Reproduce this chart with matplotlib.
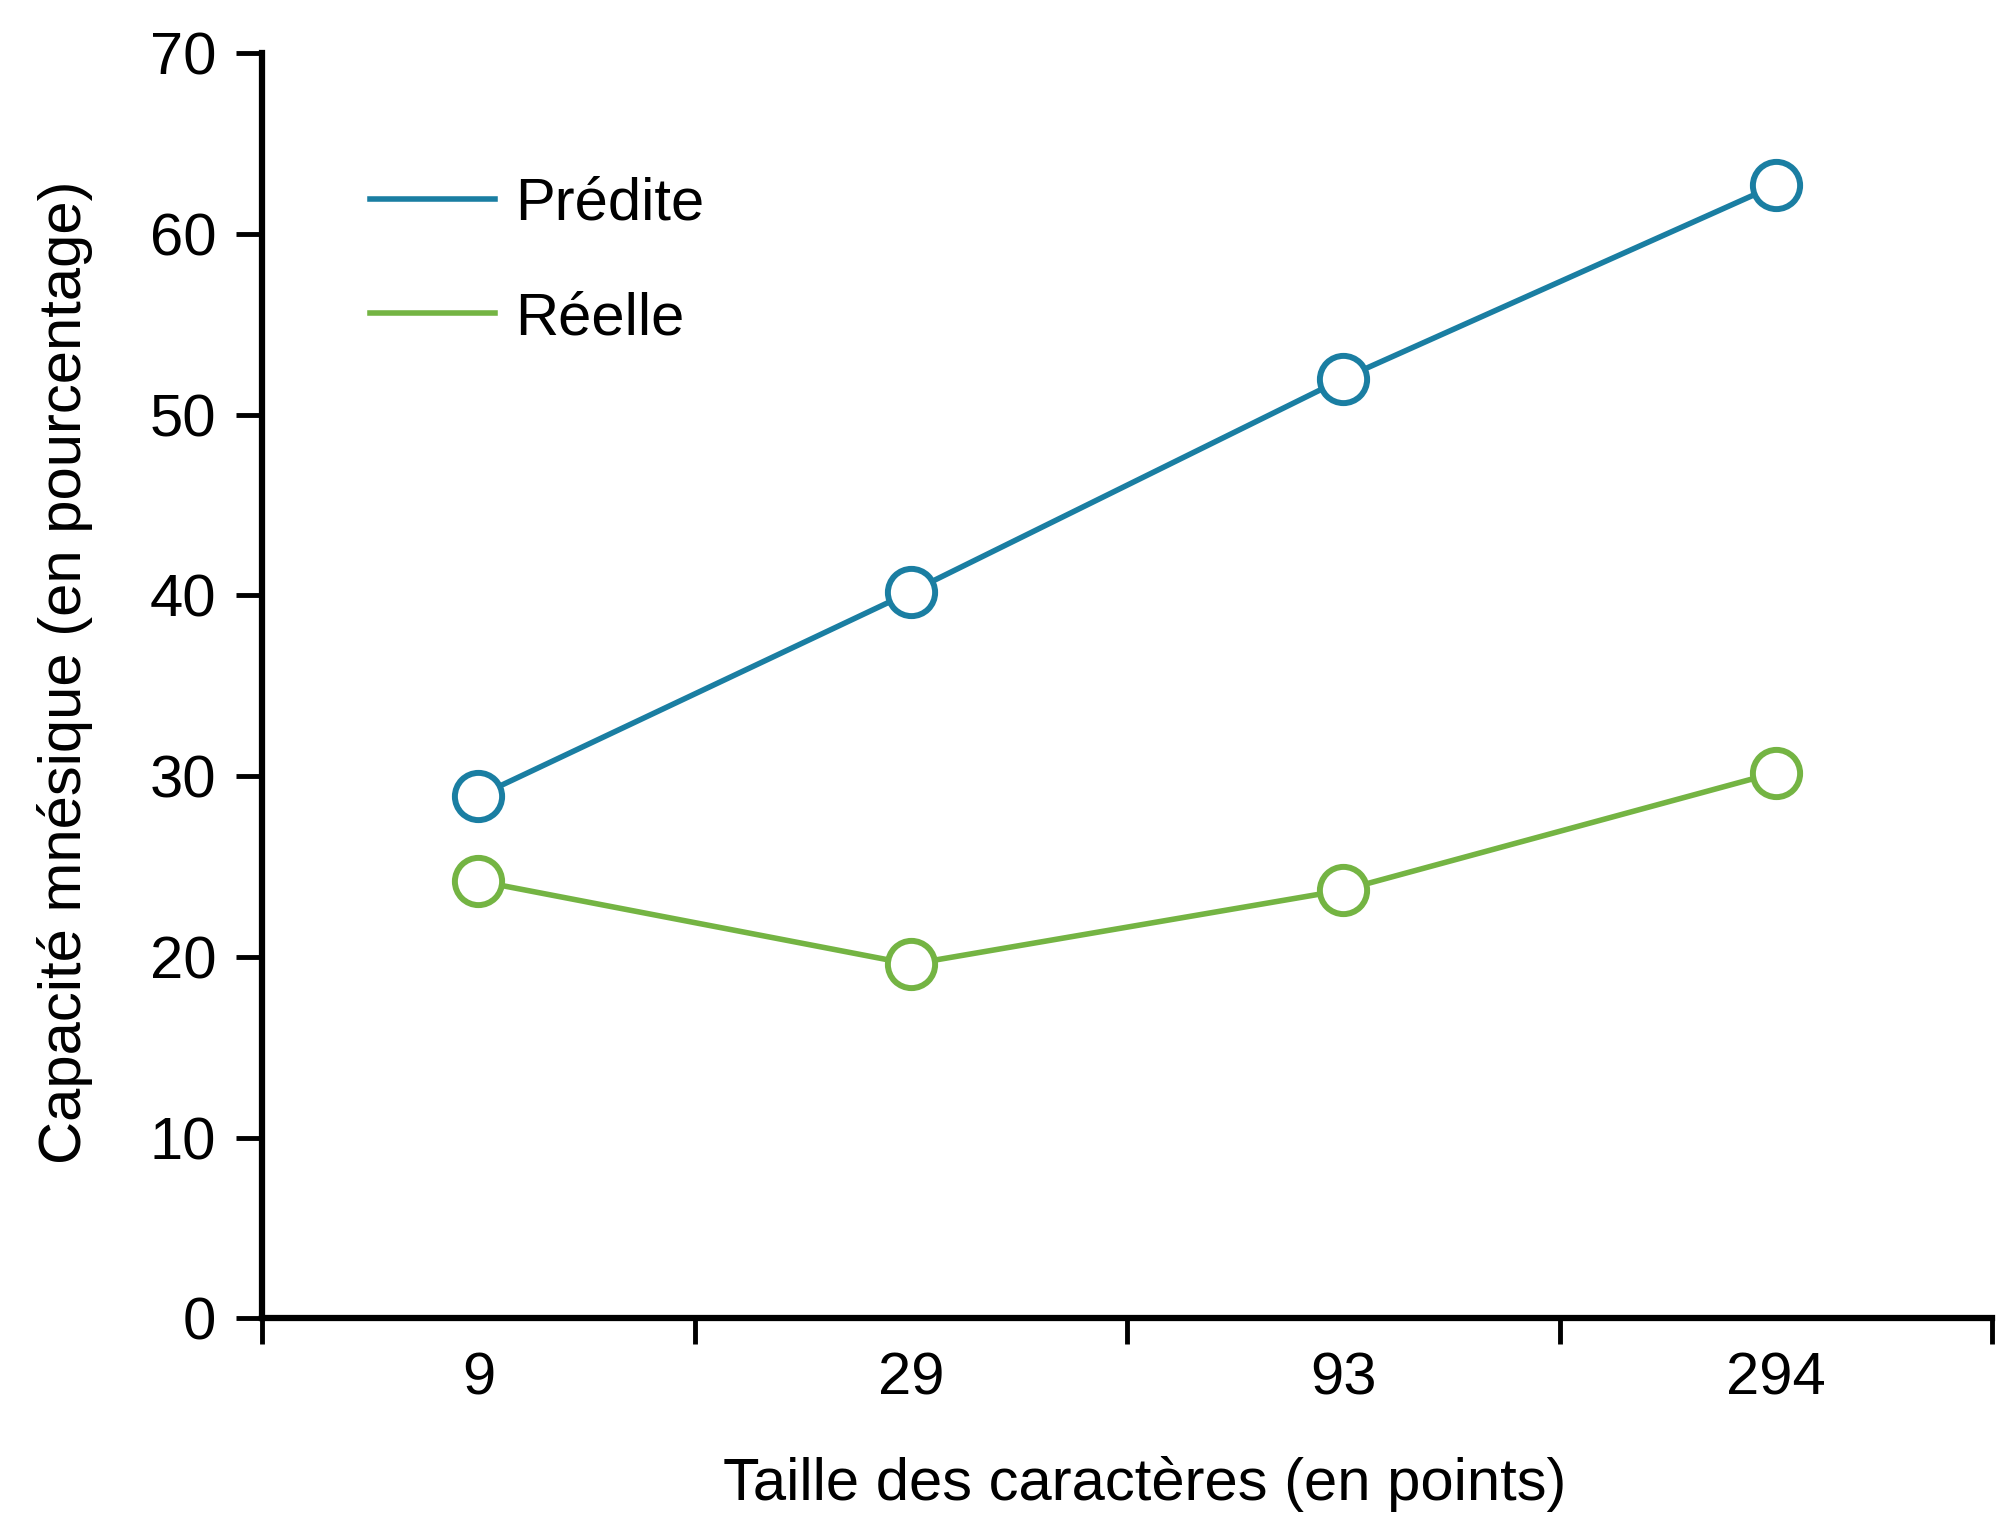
import numpy as np
import matplotlib
matplotlib.use('Agg')
import matplotlib.pyplot as plt
from matplotlib.lines import Line2D

plt.rcParams['font.family'] = ['Liberation Sans', 'DejaVu Sans']

# tailles de caractères (catégories) et capacité mnésique en %
tailles = ['9', '29', '93', '294']
predite = [28.9, 40.2, 52.0, 62.7]
reelle = [24.2, 19.6, 23.7, 30.2]

bleu = '#1a7ea2'
vert = '#74b443'
fs = 43

fig = plt.figure(figsize=(20.02, 15.19), dpi=100)
ax = fig.add_axes([0.131, 0.132, 0.864, 0.833])

x = np.arange(len(tailles))
ax.plot(x, predite, '-o', color=bleu, lw=4, ms=34, mew=4.3, mfc='white')
ax.plot(x, reelle, '-o', color=vert, lw=4, ms=34, mew=4.3, mfc='white')

ax.set_xlim(-0.5, 3.5)
ax.set_ylim(0, 70)
ax.set_yticks(range(0, 71, 10))
ax.set_xticks(x)
ax.set_xticklabels(tailles)
ax.set_xticks(np.arange(-0.5, 3.6, 1), minor=True)

for s in ['top', 'right']:
    ax.spines[s].set_visible(False)
for s in ['left', 'bottom']:
    ax.spines[s].set_linewidth(4.5)

ax.tick_params(axis='y', length=19, width=3.5, pad=14, labelsize=fs)
ax.tick_params(axis='x', which='major', length=0, pad=24, labelsize=fs)
ax.tick_params(axis='x', which='minor', length=19, width=3.5)

ax.set_xlabel('Taille des caractères (en points)', fontsize=fs)
ax.xaxis.set_label_coords(0.51, -0.109)
ax.set_ylabel('Capacité mnésique (en pourcentage)', fontsize=fs)
ax.yaxis.set_label_coords(-0.098, 0.511)

# légende sans cadre, en haut à gauche
handles = [Line2D([], [], color=bleu, lw=4), Line2D([], [], color=vert, lw=4)]
ax.legend(handles, ['Prédite', 'Réelle'], loc='upper left',
          bbox_to_anchor=(0.031, 0.945), frameon=False, fontsize=fs,
          handlelength=2.1, handletextpad=0.33, labelspacing=1.0)

fig.savefig('out.png', dpi=100)
